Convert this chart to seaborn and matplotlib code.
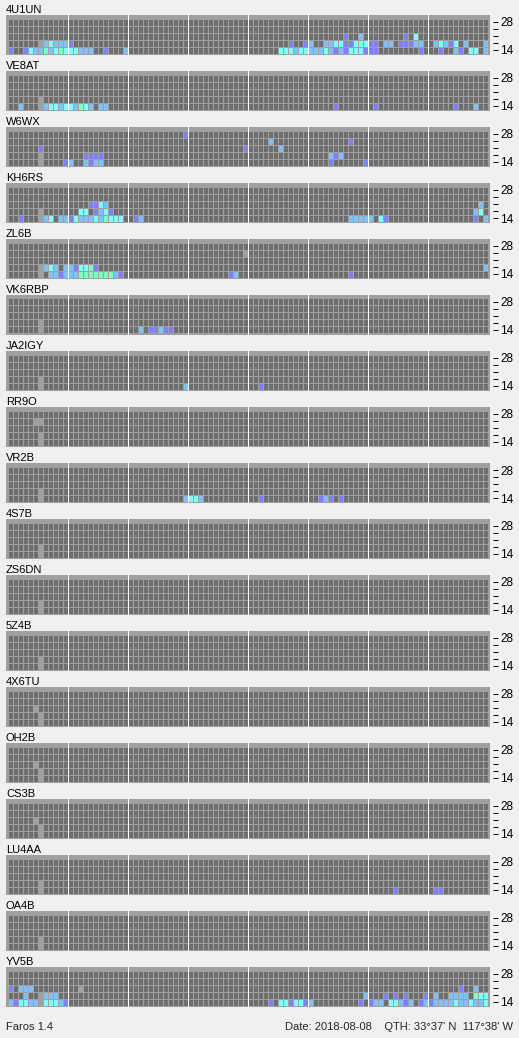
import numpy as np
import pandas as pd
import matplotlib
matplotlib.use("Agg")
import matplotlib.pyplot as plt
from matplotlib.colors import ListedColormap
import seaborn as sns

# ---------------- data ----------------
STATIONS = ["4U1UN", "VE8AT", "W6WX", "KH6RS", "ZL6B", "VK6RBP", "JA2IGY", "RR9O",
            "VR2B", "4S7B", "ZS6DN", "5Z4B", "4X6TU", "OH2B", "CS3B", "LU4AA",
            "OA4B", "YV5B"]
BANDS = [28, 24, 21, 18, 14]          # top row -> bottom row
BAND_LABELS = ["28", "", "", "", "14"]
N_SLOTS = 96                           # 15-minute slots over 24 h
# level codes: '.' none, 'x' not monitored, 'p' weak, 'b' fair, 'c' good, 'g' strong
LEVEL_CODES = ".xpbcg"
LEVEL_COLORS = ["#6e6e6e", "#a0a0a0", "#8080ff", "#80c0ff", "#80ffff", "#80ffc0"]

# (band, first slot, codes)
SPOTS = {
    "4U1UN": [(21, 67, "p..b"), (21, 79, "p.c"),
              (18, 6, "xbcbbbp"),
              (18, 56, "p..pb..bbccppcccpp.bb.pppbb..bcbpc.b...b"),
              (14, 0, "p..pcbbgbcgcccbbb..p...b"),
              (14, 54, "cccbccbbbcbpbpcccppp........p...p..bp.cc.b")],
    "VE8AT": [(18, 6, "x"),
              (14, 2, "b...xbccbccbgcb.bb"),
              (14, 65, "p"), (14, 73, "p"), (14, 89, "p...b")],
    "W6WX": [(28, 35, "p"), (24, 52, "b"), (24, 68, "p"),
             (21, 6, "p"), (21, 47, "p"), (21, 54, "b"),
             (18, 6, "x"), (18, 15, "pppp"), (18, 64, "bpb"),
             (14, 6, "x"), (14, 11, "pb..bpbb"), (14, 64, "p"), (14, 71, "p")],
    "KH6RS": [(21, 16, "ppcb"), (21, 94, "b"),
              (18, 6, "x"), (18, 14, "cc.pbcp"), (18, 93, "bc"),
              (14, 2, "p"), (14, 6, "xbc.bbpcbbbcbgccc"), (14, 25, "pb"),
              (14, 68, "bbbbb.cp"), (14, 93, "p.b")],
    "ZL6B": [(24, 47, "x"),
             (18, 6, "xbcb.bbpccgp"), (18, 95, "b"),
             (14, 6, "x.bbpbbbgggggggbp"), (14, 44, "pb"), (14, 68, "p")],
    "VK6RBP": [(18, 6, "x"), (14, 6, "x"), (14, 26, "b.ppbpp")],
    "JA2IGY": [(18, 6, "x"), (14, 6, "x"), (14, 35, "b"), (14, 50, "p")],
    "RR9O": [(24, 5, "xx"), (18, 6, "x"), (14, 6, "x")],
    "VR2B": [(18, 6, "x"), (14, 6, "x"), (14, 35, "bccb"), (14, 50, "p"),
             (14, 62, "pbp.p")],
    "4S7B": [(18, 6, "x"), (14, 6, "x")],
    "ZS6DN": [(18, 6, "x"), (14, 6, "x")],
    "5Z4B": [(18, 6, "x"), (14, 6, "x")],
    "4X6TU": [(21, 5, "x"), (18, 6, "x"), (14, 6, "x")],
    "OH2B": [(21, 5, "x"), (18, 6, "x"), (14, 6, "x")],
    "CS3B": [(21, 5, "x"), (18, 6, "x"), (14, 6, "x")],
    "LU4AA": [(18, 6, "x"), (14, 6, "x"), (14, 77, "p"), (14, 85, "pp")],
    "OA4B": [(18, 6, "x"), (14, 6, "x")],
    "YV5B": [(21, 0, "p.bbb"), (21, 14, "x"), (21, 90, "p..b"),
             (18, 3, "b..xbbb"),
             (18, 71, "b...p.p.p...p.b..bbbb.gcc"),
             (14, 0, "bpccbbxcccbp"),
             (14, 52, "p.ccpccpb.........p.pbb.ccbpb.pbpbbbbcbbcbbc")],
}

FOOT_LEFT = "Faros 1.4"
FOOT_RIGHT = "Date: 2018-08-08    QTH: 33°37' N  117°38' W"

# ---------------- drawing ----------------
sns.set_theme(style="white")
plt.rcParams["font.family"] = ["Liberation Sans", "DejaVu Sans"]

W, H, DPI = 519, 1038, 100
BG = "#f0f0f0"
PANEL = "#a0a0a0"
fig = plt.figure(figsize=(W / DPI, H / DPI), dpi=DPI, facecolor=BG)
cmap = ListedColormap(LEVEL_COLORS)
PX = 72.0 / DPI   # one pixel in points


def px_axes(x0, y0, w, h):
    return fig.add_axes([x0 / W, 1 - (y0 + h) / H, w / W, h / H])


for i, st in enumerate(STATIONS):
    grid = np.zeros((len(BANDS), N_SLOTS), dtype=int)
    for band, start, codes in SPOTS.get(st, []):
        r = BANDS.index(band)
        for k, ch in enumerate(codes):
            grid[r, start + k] = LEVEL_CODES.index(ch)
    df = pd.DataFrame(grid, index=BANDS, columns=range(N_SLOTS))

    top = 15 + 56 * i
    ax = px_axes(6, top, 484, 40)
    ax.set_facecolor(PANEL)
    sns.heatmap(df, ax=ax, cmap=cmap, vmin=-0.5, vmax=len(LEVEL_COLORS) - 0.5,
                cbar=False, linewidths=PX, linecolor=PANEL, antialiased=False)
    ax.set_xlim(-0.3, 96.5)
    ax.set_ylim(5 + 1.5 / 7, -0.5)
    for xs in range(12, N_SLOTS, 12):
        ax.axvline(xs, color="white", lw=PX, antialiased=False)

    ax.set_xticks([])
    ax.set_xlabel("")
    ax.set_ylabel("")
    ax.yaxis.tick_right()
    ax.set_yticks(np.arange(len(BANDS)) + 0.5)
    ax.set_yticklabels(BAND_LABELS, rotation=0)
    for s in ax.spines.values():
        s.set_visible(False)
    ax.spines["right"].set_position(("outward", 3 * PX))
    ax.tick_params(axis="y", which="both", left=False, right=True, length=5 * PX,
                   width=PX, color="black", pad=1.5, labelsize=8.5,
                   labelcolor="black")

    fig.text(6 / W, 1 - (top - 2) / H, st, ha="left", va="baseline",
             fontsize=8, color="black")

fig.text(6 / W, 1 - 1030 / H, FOOT_LEFT, ha="left", va="baseline", fontsize=8)
fig.text(513 / W, 1 - 1030 / H, FOOT_RIGHT, ha="right", va="baseline", fontsize=8)

fig.savefig("out.png", dpi=DPI, facecolor=BG)
